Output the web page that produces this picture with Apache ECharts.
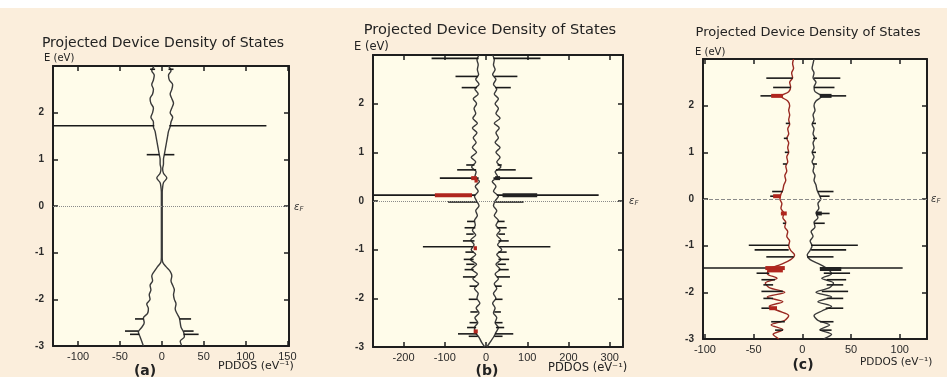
<!DOCTYPE html>
<html>
<head>
<meta charset="utf-8">
<title>Projected Device Density of States</title>
<script src="https://cdn.jsdelivr.net/npm/echarts@6/dist/echarts.min.js"></script>
<style>
  html, body { margin: 0; padding: 0; background: #fbeedc; }
  #chart { width: 947px; height: 377px; }
</style>
</head>
<body>
<div id="chart"></div>
<script>
// energy grid (eV), shared by the three panels
const energy = [-3.0, -2.9, -2.8, -2.7, -2.6, -2.5, -2.4, -2.3, -2.2, -2.1, -2.0, -1.9, -1.8, -1.7, -1.6, -1.5, -1.4, -1.3, -1.2, -1.1,
  -1.0, -0.9, -0.8, -0.7, -0.6, -0.5, -0.4, -0.3, -0.2, -0.1, 0.0, 0.1, 0.2, 0.3, 0.4, 0.5, 0.6, 0.7, 0.8, 0.9,
  1.0, 1.1, 1.2, 1.3, 1.4, 1.5, 1.6, 1.7, 1.8, 1.9, 2.0, 2.1, 2.2, 2.3, 2.4, 2.5, 2.6, 2.7, 2.8, 2.9, 3.0]

// (a) PDDOS, right (spin up) and left (spin down) curves
const aUp = [24, 22, 27, 26, 23, 22, 21, 18, 16, 17, 15, 14, 15, 13, 11, 12, 10, 5, 1, 0.5,
  0.5, 0.5, 0.5, 0.5, 0.5, 0.5, 0.5, 0.5, 0.5, 0.5, 0.5, 0.5, 0.5, 0.5,
  1, 2, 6, 2, 1, 2, 2, 3, 4, 5, 6, 7, 8, 10, 11, 13, 10, 12, 14, 12, 10, 12, 13, 9, 8, 11, 8]
const aDn = [-22, -24, -26, -28, -24, -21, -22, -17, -16, -18, -14, -15, -13, -14, -11, -12, -9, -5, -1, -0.5,
  -0.5, -0.5, -0.5, -0.5, -0.5, -0.5, -0.5, -0.5, -0.5, -0.5, -0.5, -0.5, -0.5, -0.5,
  -1, -2, -6, -2, -1, -2, -2, -3, -4, -5, -6, -7, -8, -10, -10, -13, -11, -10, -13, -14, -11, -10, -12, -10, -9, -12, -9]
// peaks: [E, from, to]
const aSpikes = [[1.72, 9, 125], [1.72, -9, -130], [1.1, 3, 15], [1.1, -3, -18], [2.93, 8, 14], [2.93, -8, -14],
  [-2.42, 21, 35], [-2.42, -22, -32], [-2.68, 26, 38], [-2.68, -28, -44], [-2.75, 26, 44], [-2.75, -27, -38]]

// (b)
const bUp = [2, 10, 18, 24, 30, 22, 26, 18, 22, 16, 24, 18, 26, 20, 30, 22, 34, 24, 36, 26,
  38, 28, 36, 26, 34, 24, 30, 20, 26, 18, 22, 30, 18, 24, 15, 28, 22, 36, 26, 34,
  24, 34, 22, 30, 24, 32, 20, 34, 24, 30, 22, 30, 20, 26, 18, 24, 16, 22, 18, 20, 16]
const bDn = [-3, -11, -17, -26, -28, -20, -27, -17, -24, -15, -22, -19, -28, -18, -32, -21, -35, -23, -38, -25,
  -36, -29, -37, -25, -33, -26, -28, -21, -25, -17, -23, -28, -19, -26, -16, -27, -24, -35, -25, -36,
  -23, -33, -24, -31, -22, -33, -21, -32, -25, -29, -23, -31, -19, -27, -17, -25, -18, -21, -19, -22, -17]
const bSpikes = [[2.93, 18, 132], [2.56, 20, 76], [2.33, 22, 60], [0.74, 28, 38], [0.64, 24, 72], [0.47, 18, 112],
  [0.12, 26, 273], [-0.02, 22, 91], [-0.42, 28, 45], [-0.55, 26, 50], [-0.68, 30, 46], [-0.82, 30, 55],
  [-0.94, 32, 156], [-1.05, 30, 50], [-1.2, 30, 56], [-1.3, 28, 48], [-1.41, 30, 55], [-1.56, 26, 58],
  [-1.75, 22, 38], [-2.02, 22, 40], [-2.28, 20, 36], [-2.5, 22, 40], [-2.6, 24, 44], [-2.73, 22, 66], [-2.78, 20, 40],
  [2.93, -18, -132], [2.56, -20, -74], [2.33, -22, -59], [0.74, -28, -48], [0.64, -24, -70], [0.47, -18, -112],
  [0.12, -26, -272], [-0.02, -22, -92], [-0.42, -28, -46], [-0.55, -26, -52], [-0.68, -30, -48], [-0.82, -28, -56],
  [-0.94, -32, -153], [-1.05, -30, -50], [-1.2, -30, -54], [-1.3, -28, -48], [-1.41, -30, -52], [-1.56, -26, -56],
  [-1.75, -22, -40], [-2.02, -22, -42], [-2.28, -20, -38], [-2.5, -22, -40], [-2.6, -24, -46], [-2.73, -22, -68], [-2.78, -20, -42]]
const bRed = [[0.12, -34, -124], [0.47, -22, -36], [0.42, -20, -28], [-0.97, -22, -30], [-2.68, -20, -30]]
const bDark = [[0.12, 40, 124], [0.47, 22, 34]]

// (c)
const cUp = [22, 30, 18, 28, 16, 12, 20, 30, 16, 30, 14, 28, 32, 20, 30, 26, 18, 8, 5, 8,
  10, 8, 11, 9, 13, 12, 16, 14, 17, 16, 19, 17, 15, 14, 12, 13, 11, 12, 10, 12,
  10, 12, 11, 13, 11, 12, 10, 12, 11, 13, 12, 14, 20, 13, 12, 14, 11, 12, 10, 11, 12]
const cDn = [-24, -30, -20, -32, -18, -14, -24, -34, -20, -36, -18, -34, -38, -26, -36, -34, -22, -12, -8, -12,
  -14, -13, -16, -15, -18, -17, -20, -19, -22, -21, -23, -22, -20, -19, -17, -18, -16, -17, -15, -16,
  -14, -15, -14, -16, -14, -15, -13, -14, -13, -14, -13, -15, -22, -14, -12, -13, -10, -11, -9, -10, -9]
const cSpikes = [[2.59, 12, 39], [2.39, 12, 33], [2.21, 18, 45], [1.62, 10, 14], [1.3, 11, 15], [1.0, 10, 14],
  [0.75, 11, 15], [0.16, 16, 32], [0.06, 18, 28], [-0.31, 14, 28], [-0.52, 12, 23], [-0.99, 9, 57],
  [-1.09, 9, 45], [-1.24, 5, 32], [-1.48, 18, 103], [-1.59, 22, 49], [-1.73, 25, 45], [-1.84, 25, 42],
  [-1.98, 20, 47], [-2.13, 25, 42], [-2.34, 24, 42], [-2.63, 18, 32], [-2.81, 18, 30],
  [2.59, -10, -37], [2.39, -12, -30], [2.21, -20, -43], [1.62, -13, -17], [1.3, -15, -19], [1.0, -14, -18],
  [0.75, -16, -20], [0.16, -20, -31], [0.06, -22, -33], [-0.31, -18, -22], [-0.52, -17, -20], [-0.99, -14, -55],
  [-1.09, -14, -49], [-1.24, -9, -37], [-1.48, -30, -102], [-1.59, -34, -47], [-1.73, -28, -42], [-1.84, -30, -40],
  [-1.98, -20, -42], [-2.13, -30, -40], [-2.34, -26, -42], [-2.63, -18, -32], [-2.81, -20, -28]]
const cRed = [[-1.48, -18, -38], [-1.53, -20, -36], [2.21, -20, -32], [-0.31, -16, -22], [-2.34, -26, -34], [0.06, -22, -30]]
const cDark = [[-1.5, 18, 40], [2.21, 18, 30], [-0.31, 14, 20]]

// x tick labels
const ticksA = [-100, -50, 0, 50, 100, 150]
const ticksB = [-200, -100, 0, 100, 200, 300]
const ticksC = [-100, -50, 0, 50, 100]

const panels = [
  { grid: { left: 53, top: 66, width: 236, height: 280 }, xMin: -130, xMax: 152, ticks: ticksA,
    up: aUp, dn: aDn, spikes: aSpikes, red: [], dark: [], leftColor: '#3a3a3a', fermi: 'dotted' },
  { grid: { left: 373, top: 55, width: 250, height: 292 }, xMin: -274, xMax: 332, ticks: ticksB,
    up: bUp, dn: bDn, spikes: bSpikes, red: bRed, dark: bDark, leftColor: '#3a3a3a', fermi: 'dotted' },
  { grid: { left: 703, top: 59, width: 224, height: 280 }, xMin: -102, xMax: 128, ticks: ticksC,
    up: cUp, dn: cDn, spikes: cSpikes, red: cRed, dark: cDark, leftColor: '#9a2a22', fermi: 'dashed' }
]

function spikeSeries (g, data, color, width) {
  return {
    type: 'custom',
    xAxisIndex: 2 * g,
    yAxisIndex: 2 * g,
    z: 4,
    silent: true,
    clip: true,
    encode: { x: [1, 2], y: 0 },
    data: data,
    renderItem: function (params, api) {
      const e = api.value(0)
      const p1 = api.coord([api.value(1), e])
      const p2 = api.coord([api.value(2), e])
      return {
        type: 'line',
        shape: { x1: p1[0], y1: p1[1], x2: p2[0], y2: p2[1] },
        style: { stroke: color, lineWidth: width }
      }
    }
  }
}

const frame = { show: true, onZero: false, lineStyle: { color: '#1e1e1e', width: 2 } }
const grids = []
const xAxes = []
const yAxes = []
const series = []

panels.forEach(function (p, g) {
  grids.push(Object.assign({ show: true, backgroundColor: '#fffcea', borderWidth: 0 }, p.grid))
  xAxes.push({
    type: 'value', gridIndex: g, position: 'bottom', min: p.xMin, max: p.xMax,
    axisLine: frame,
    axisTick: { inside: true, length: 5, customValues: p.ticks, lineStyle: { color: '#1e1e1e', width: 1.5 } },
    axisLabel: { customValues: p.ticks, color: '#2a2a2a', fontSize: 11, fontFamily: 'Liberation Sans', margin: 5 },
    splitLine: { show: false }
  })
  xAxes.push({
    type: 'value', gridIndex: g, position: 'top', min: p.xMin, max: p.xMax,
    axisLine: frame,
    axisTick: { inside: true, length: 5, customValues: p.ticks, lineStyle: { color: '#1e1e1e', width: 1.5 } },
    axisLabel: { show: false },
    splitLine: { show: false }
  })
  yAxes.push({
    type: 'value', gridIndex: g, position: 'left', min: -3, max: 3, interval: 1,
    axisLine: frame,
    axisTick: { inside: true, length: 5, lineStyle: { color: '#1e1e1e', width: 1.5 } },
    axisLabel: { showMaxLabel: false, color: '#2a2a2a', fontSize: 10, fontWeight: 'bold', fontFamily: 'Liberation Sans', margin: 9 },
    splitLine: { show: false }
  })
  yAxes.push({
    type: 'value', gridIndex: g, position: 'right', min: -3, max: 3, interval: 1,
    axisLine: frame,
    axisTick: { inside: true, length: 5, lineStyle: { color: '#1e1e1e', width: 1.5 } },
    axisLabel: { show: false },
    splitLine: { show: false }
  })

  series.push({
    type: 'line', xAxisIndex: 2 * g, yAxisIndex: 2 * g, z: 3,
    symbol: 'none', smooth: 0.3, silent: true,
    lineStyle: { color: '#3a3a3a', width: 1.4 },
    data: energy.map(function (e, k) { return [p.up[k], e] }),
    markLine: {
      silent: true, symbol: 'none', label: { show: false },
      lineStyle: { type: p.fermi, color: '#8a8a8a', width: 1 },
      data: [{ yAxis: 0 }]
    }
  })
  series.push({
    type: 'line', xAxisIndex: 2 * g, yAxisIndex: 2 * g, z: 3,
    symbol: 'none', smooth: 0.3, silent: true,
    lineStyle: { color: p.leftColor, width: 1.4 },
    data: energy.map(function (e, k) { return [p.dn[k], e] })
  })
  series.push(spikeSeries(g, p.spikes, '#1a1a1a', 1.6))
  if (p.red.length) series.push(spikeSeries(g, p.red, '#b0261e', 4))
  if (p.dark.length) series.push(spikeSeries(g, p.dark, '#222', 4))
})

function txt (text, x, y, font, align, extra) {
  return {
    type: 'text', x: x, y: y, z: 10, silent: true,
    style: Object.assign({
      text: text, font: font, fill: '#222',
      align: align || 'left', textAlign: align || 'left',
      verticalAlign: 'middle', textVerticalAlign: 'middle'
    }, extra || {})
  }
}

function eps (x, y) {
  return txt('{e|ε}{f|F}', x, y, 'italic 10px DejaVu Sans', 'left', {
    rich: {
      e: { font: 'italic 10px DejaVu Sans', fill: '#333' },
      f: { font: 'italic 7px DejaVu Sans', fill: '#333', padding: [4, 0, 0, 0] }
    }
  })
}

const option = {
  animation: false,
  grid: grids,
  xAxis: xAxes,
  yAxis: yAxes,
  series: series,
  graphic: [
    { type: 'rect', shape: { x: 0, y: 0, width: 947, height: 8 }, style: { fill: '#ffffff' }, z: -1, silent: true },
    txt('Projected Device Density of States', 163, 43, '14px DejaVu Sans', 'center'),
    txt('Projected Device Density of States', 490, 30, '14.6px DejaVu Sans', 'center'),
    txt('Projected Device Density of States', 808, 33, '13px DejaVu Sans', 'center'),
    txt('E (eV)', 44, 58, '10px DejaVu Sans', 'left'),
    txt('E (eV)', 354, 47, '11.5px DejaVu Sans', 'left'),
    txt('E (eV)', 695, 52, '10px DejaVu Sans', 'left'),
    eps(294, 207),
    eps(629, 201),
    eps(931, 199),
    txt('PDDOS (eV⁻¹)', 218, 366, '11px DejaVu Sans', 'left'),
    txt('PDDOS (eV⁻¹)', 548, 368, '11.5px DejaVu Sans', 'left'),
    txt('PDDOS (eV⁻¹)', 860, 362, '10.5px DejaVu Sans', 'left'),
    txt('(a)', 145, 371, 'bold 14px DejaVu Sans', 'center'),
    txt('(b)', 487, 371, 'bold 14px DejaVu Sans', 'center'),
    txt('(c)', 803, 365, 'bold 14px DejaVu Sans', 'center')
  ]
}

const chart = echarts.init(document.getElementById('chart'))
chart.setOption(option)
window.addEventListener('resize', function () { chart.resize() })
</script>
</body>
</html>
